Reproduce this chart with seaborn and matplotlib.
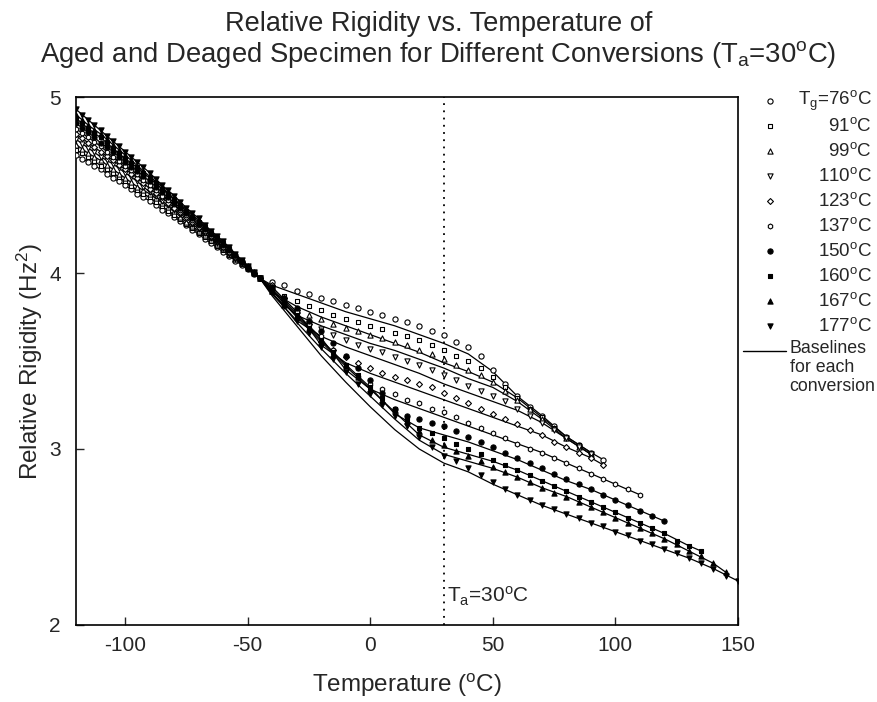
import matplotlib
matplotlib.use("Agg")
import matplotlib.pyplot as plt
import numpy as np
import pandas as pd
import seaborn as sns


# glass transition temperatures (legend order)
TG = [76, 91, 99, 110, 123, 137, 150, 160, 167, 177]
END_T = [95, 90, 90, 90, 95, 110, 120, 135, 145, 150]

# glassy region, T = -120 .. -45 step 2.5
GLASSY_T = [-120 + 2.5 * i for i in range(31)]
G76 = [4.67, 4.65, 4.63, 4.61, 4.59, 4.565, 4.54, 4.52, 4.50, 4.475, 4.45, 4.43, 4.41, 4.385, 4.36, 4.34,
       4.32, 4.295, 4.27, 4.245, 4.22, 4.195, 4.17, 4.145, 4.12, 4.095, 4.07, 4.045, 4.02, 3.995, 3.97]
G91 = [4.70, 4.68, 4.66, 4.635, 4.61, 4.59, 4.57, 4.545, 4.52, 4.495, 4.47, 4.45, 4.43, 4.405, 4.38, 4.355,
       4.33, 4.305, 4.28, 4.255, 4.23, 4.205, 4.18, 4.155, 4.13, 4.105, 4.08, 4.05, 4.02, 3.995, 3.97]
G99 = [4.73, 4.705, 4.68, 4.66, 4.64, 4.615, 4.59, 4.565, 4.54, 4.515, 4.49, 4.47, 4.45, 4.425, 4.40, 4.375,
       4.35, 4.32, 4.29, 4.265, 4.24, 4.215, 4.19, 4.165, 4.14, 4.11, 4.08, 4.055, 4.03, 4.00, 3.97]
G110 = [4.76, 4.735, 4.71, 4.685, 4.66, 4.64, 4.62, 4.595, 4.57, 4.545, 4.52, 4.49, 4.46, 4.435, 4.41, 4.385,
        4.36, 4.335, 4.31, 4.28, 4.25, 4.225, 4.20, 4.17, 4.14, 4.11, 4.08, 4.055, 4.03, 4.00, 3.97]
G123 = [4.79, 4.765, 4.74, 4.715, 4.69, 4.665, 4.64, 4.615, 4.59, 4.565, 4.54, 4.51, 4.48, 4.455, 4.43, 4.40,
        4.37, 4.345, 4.32, 4.29, 4.26, 4.235, 4.21, 4.18, 4.15, 4.12, 4.09, 4.06, 4.03, 4.00, 3.97]
G137 = [4.82, 4.795, 4.77, 4.745, 4.72, 4.69, 4.66, 4.635, 4.61, 4.585, 4.56, 4.53, 4.50, 4.47, 4.44, 4.415,
        4.39, 4.36, 4.33, 4.30, 4.27, 4.24, 4.21, 4.18, 4.15, 4.12, 4.09, 4.06, 4.03, 4.00, 3.97]
G150 = [4.85, 4.825, 4.80, 4.77, 4.74, 4.715, 4.69, 4.66, 4.63, 4.605, 4.58, 4.55, 4.52, 4.49, 4.46, 4.43,
        4.40, 4.37, 4.34, 4.31, 4.28, 4.25, 4.22, 4.19, 4.16, 4.13, 4.10, 4.065, 4.03, 4.00, 3.97]
G160 = [4.88, 4.85, 4.82, 4.795, 4.77, 4.74, 4.71, 4.68, 4.65, 4.625, 4.60, 4.57, 4.54, 4.51, 4.48, 4.45,
        4.42, 4.385, 4.35, 4.32, 4.29, 4.26, 4.23, 4.20, 4.17, 4.135, 4.10, 4.07, 4.04, 4.005, 3.97]
G167 = [4.90, 4.87, 4.84, 4.815, 4.79, 4.76, 4.73, 4.70, 4.67, 4.64, 4.61, 4.58, 4.55, 4.52, 4.49, 4.455,
        4.42, 4.39, 4.36, 4.33, 4.30, 4.265, 4.23, 4.20, 4.17, 4.135, 4.10, 4.07, 4.04, 4.005, 3.97]
G177 = [4.93, 4.90, 4.87, 4.84, 4.81, 4.78, 4.75, 4.72, 4.69, 4.66, 4.63, 4.60, 4.57, 4.535, 4.50, 4.47,
        4.44, 4.405, 4.37, 4.34, 4.31, 4.275, 4.24, 4.21, 4.18, 4.145, 4.11, 4.075, 4.04, 4.005, 3.97]

# aged specimen, T = -40 .. END step 5
A76 = [3.95, 3.93, 3.90, 3.88, 3.86, 3.84, 3.82, 3.80, 3.78, 3.76, 3.74, 3.72, 3.70, 3.67,
       3.65, 3.61, 3.58, 3.53, 3.45, 3.37, 3.30, 3.24, 3.19, 3.13, 3.07, 3.02, 2.98, 2.94]
A91 = [3.90, 3.87, 3.84, 3.81, 3.79, 3.76, 3.74, 3.72, 3.70, 3.68, 3.66, 3.64, 3.62, 3.59,
       3.56, 3.53, 3.50, 3.46, 3.41, 3.35, 3.29, 3.23, 3.18, 3.12, 3.07, 3.02, 2.98]
A99 = [3.90, 3.83, 3.79, 3.76, 3.74, 3.71, 3.69, 3.67, 3.65, 3.63, 3.61, 3.59, 3.56, 3.54,
       3.51, 3.48, 3.45, 3.42, 3.38, 3.33, 3.28, 3.23, 3.17, 3.12, 3.06, 3.01, 2.97]
A110 = [3.90, 3.82, 3.76, 3.71, 3.68, 3.65, 3.62, 3.59, 3.57, 3.55, 3.52, 3.50, 3.48, 3.45,
        3.42, 3.39, 3.36, 3.33, 3.30, 3.27, 3.23, 3.19, 3.15, 3.11, 3.06, 3.01, 2.97]
A123 = [3.93, 3.86, 3.79, 3.71, 3.61, 3.56, 3.52, 3.49, 3.46, 3.43, 3.41, 3.39, 3.37, 3.35,
        3.32, 3.29, 3.26, 3.23, 3.20, 3.17, 3.14, 3.11, 3.08, 3.04, 3.01, 2.98, 2.95, 2.91]
A137 = [3.92, 3.85, 3.78, 3.71, 3.64, 3.56, 3.46, 3.41, 3.37, 3.34, 3.31, 3.28, 3.26, 3.23,
        3.21, 3.18, 3.15, 3.12, 3.09, 3.06, 3.03, 3.00, 2.98, 2.95, 2.92, 2.89, 2.86, 2.83,
        2.80, 2.77, 2.74]
A150 = [3.92, 3.86, 3.80, 3.73, 3.67, 3.60, 3.53, 3.46, 3.39, 3.32, 3.23, 3.19, 3.17, 3.15,
        3.13, 3.10, 3.07, 3.04, 3.01, 2.98, 2.95, 2.92, 2.89, 2.86, 2.83, 2.80, 2.77, 2.74,
        2.71, 2.68, 2.65, 2.62, 2.59]
A160 = [3.90, 3.83, 3.76, 3.69, 3.62, 3.55, 3.48, 3.42, 3.35, 3.29, 3.23, 3.17, 3.12, 3.09,
        3.06, 3.03, 3.00, 2.97, 2.94, 2.91, 2.88, 2.85, 2.82, 2.79, 2.76, 2.73, 2.70, 2.67,
        2.64, 2.61, 2.58, 2.55, 2.52, 2.48, 2.45, 2.42]
A167 = [3.90, 3.82, 3.75, 3.68, 3.61, 3.54, 3.47, 3.41, 3.34, 3.28, 3.22, 3.16, 3.10, 3.05,
        3.02, 2.99, 2.96, 2.93, 2.90, 2.87, 2.84, 2.81, 2.78, 2.75, 2.73, 2.70, 2.67, 2.64,
        2.61, 2.58, 2.55, 2.52, 2.49, 2.46, 2.42, 2.39, 2.35, 2.30]
A177 = [3.89, 3.81, 3.73, 3.66, 3.58, 3.51, 3.44, 3.37, 3.31, 3.25, 3.19, 3.13, 3.07, 3.01,
        2.96, 2.93, 2.89, 2.85, 2.81, 2.77, 2.74, 2.71, 2.68, 2.66, 2.63, 2.61, 2.58, 2.56,
        2.53, 2.51, 2.48, 2.46, 2.43, 2.41, 2.38, 2.35, 2.32, 2.28, 2.25]

# deaged baselines, T = -40 .. END step 10 (+ END)
B76 = [3.93, 3.88, 3.83, 3.78, 3.74, 3.70, 3.65, 3.60, 3.54, 3.44, 3.30, 3.19, 3.07, 2.98, 2.94]
B91 = [3.89, 3.81, 3.75, 3.70, 3.65, 3.60, 3.55, 3.49, 3.44, 3.38, 3.29, 3.18, 3.07, 2.98]
B99 = [3.88, 3.76, 3.70, 3.65, 3.60, 3.56, 3.51, 3.46, 3.40, 3.35, 3.27, 3.17, 3.06, 2.97]
B110 = [3.88, 3.73, 3.64, 3.58, 3.53, 3.48, 3.43, 3.37, 3.32, 3.27, 3.22, 3.15, 3.06, 2.97]
B123 = [3.92, 3.78, 3.59, 3.49, 3.43, 3.38, 3.33, 3.28, 3.23, 3.18, 3.13, 3.08, 3.01, 2.95, 2.91]
B137 = [3.91, 3.77, 3.63, 3.45, 3.34, 3.28, 3.23, 3.18, 3.13, 3.08, 3.03, 2.98, 2.92, 2.86,
        2.80, 2.74]
B150 = [3.90, 3.76, 3.62, 3.48, 3.35, 3.20, 3.12, 3.08, 3.04, 2.99, 2.94, 2.88, 2.82, 2.77,
        2.71, 2.65, 2.59]
B160 = [3.90, 3.75, 3.61, 3.47, 3.34, 3.21, 3.08, 3.01, 2.97, 2.93, 2.88, 2.82, 2.76, 2.70,
        2.64, 2.58, 2.52, 2.45, 2.42]
B167 = [3.89, 3.72, 3.57, 3.43, 3.30, 3.17, 3.05, 2.97, 2.93, 2.89, 2.84, 2.78, 2.73, 2.67,
        2.61, 2.55, 2.49, 2.42, 2.35, 2.30]
B177 = [3.87, 3.70, 3.53, 3.38, 3.24, 3.11, 3.00, 2.92, 2.87, 2.80, 2.74, 2.68, 2.63, 2.58,
        2.53, 2.48, 2.43, 2.38, 2.32, 2.25]

GLASSY = [G76, G91, G99, G110, G123, G137, G150, G160, G167, G177]
AGED = [A76, A91, A99, A110, A123, A137, A150, A160, A167, A177]
BASE = [B76, B91, B99, B110, B123, B137, B150, B160, B167, B177]

T_AGING = 30

# marker style per conversion
MARKERS = ["o", "s", "^", "v", "D", "h", "o", "s", "^", "v"]
FILLED = [False] * 6 + [True] * 4
SIZES = [14, 11, 14, 14, 9, 13, 14, 11, 14, 14]

FONT = "Liberation Sans"

sns.set_theme(style="ticks")
plt.rcParams["font.family"] = [FONT, "DejaVu Sans"]
plt.rcParams["mathtext.fontset"] = "custom"
plt.rcParams["mathtext.rm"] = FONT
plt.rcParams["mathtext.it"] = FONT + ":italic"
plt.rcParams["mathtext.bf"] = FONT + ":bold"
plt.rcParams["axes.unicode_minus"] = False

fig = plt.figure(figsize=(8.77, 7.02), dpi=100)
ax = fig.add_axes([0.0867, 0.1097, 0.7548, 0.7521])

for g, b, end in zip(GLASSY, BASE, END_T):
    b_t = list(range(-40, end, 10)) + [end]
    line_df = pd.DataFrame({"T": GLASSY_T + b_t, "R": g + b})
    sns.lineplot(data=line_df, x="T", y="R", color="black", linewidth=0.9,
                 estimator=None, sort=False, ax=ax, zorder=2)

for g, a, m, filled, s in zip(GLASSY, AGED, MARKERS, FILLED, SIZES):
    a_t = list(range(-40, -40 + 5 * len(a), 5))
    pts = pd.DataFrame({"T": GLASSY_T + a_t, "R": g + a})
    sns.scatterplot(data=pts, x="T", y="R", marker=m, s=s,
                    facecolor="black" if filled else "white",
                    edgecolor="black", linewidth=0.8, ax=ax, zorder=3)

ax.axvline(T_AGING, color="black", linestyle=(0, (1, 3)), linewidth=1.3, zorder=1)
ax.text(T_AGING + 1.2, 2.16, r"T$_\mathregular{a}$=30$^\mathregular{o}$C",
        fontsize=15, ha="left", va="center")

ax.set_xlim(-120, 150)
ax.set_ylim(2, 5)
ax.set_xticks([-100, -50, 0, 50, 100, 150])
ax.set_yticks([2, 3, 4, 5])
ax.tick_params(axis="x", direction="in", length=6, width=1, labelsize=15, top=False, pad=8)
ax.tick_params(axis="y", direction="in", length=6, width=1, labelsize=15, right=False, pad=11)
for sp in ax.spines.values():
    sp.set_linewidth(1.2)
    sp.set_color("black")
    sp.set_visible(True)

ax.set_xlabel(r"Temperature ($^\mathregular{o}$C)", fontsize=17.5, labelpad=12)
ax.set_ylabel(r"Relative Rigidity (Hz$^\mathregular{2}$)", fontsize=17.5, labelpad=3)

fig.text(0.5, 0.966, "Relative Rigidity vs. Temperature of", ha="center", va="center",
         fontsize=19.5)
fig.text(0.5, 0.922,
         r"Aged and Deaged Specimen for Different Conversions (T$_\mathregular{a}$=30$^\mathregular{o}$C)",
         ha="center", va="center", fontsize=19.8)

# legend drawn beside the axes
key_x = 1.048
lab_x = 1.202
for k, (tg, m, filled, s) in enumerate(zip(TG, MARKERS, FILLED, SIZES)):
    yy = (625 - (101 + 25 * k)) / 528
    ax.scatter([key_x], [yy], marker=m, s=s, transform=ax.transAxes, clip_on=False,
               facecolor="black" if filled else "white", edgecolor="black", linewidth=0.8)
    label = f"{tg}" + r"$^\mathregular{o}$C"
    if k == 0:
        label = r"T$_\mathregular{g}$=" + label
    ax.text(lab_x, yy, label, transform=ax.transAxes, ha="right", va="center",
            fontsize=13.5)

yb = (625 - 351) / 528
ax.plot([1.008, 1.072], [yb, yb], color="black", linewidth=1, transform=ax.transAxes,
        clip_on=False)
ax.text(1.078, yb + 0.02, "Baselines\nfor each\nconversion", transform=ax.transAxes,
        ha="left", va="top", fontsize=12.8, linespacing=1.15)

fig.savefig("out.png", dpi=100)
